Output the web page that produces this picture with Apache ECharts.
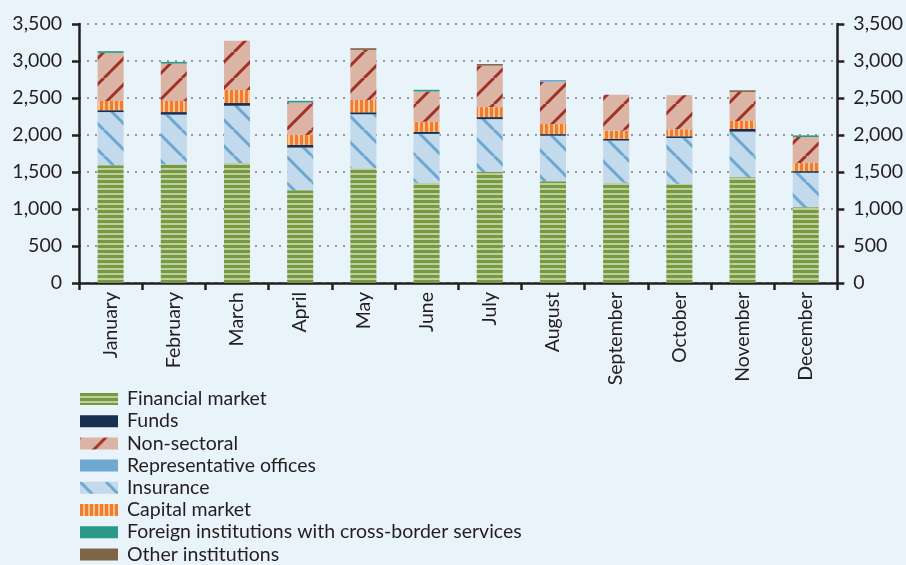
<!DOCTYPE html>
<html>
<head>
<meta charset="utf-8">
<script src="https://cdn.jsdelivr.net/npm/echarts@6/dist/echarts.min.js"></script>
<style>
html,body{margin:0;padding:0;background:#e9f3fa;}
#chart{width:906px;height:565px;}
</style>
</head>
<body>
<div id="chart"></div>
<script>
const months = ['January','February','March','April','May','June','July','August','September','October','November','December'];
const financialMarket = [1590,1605,1620,1255,1550,1350,1500,1375,1350,1340,1430,1025];
const insurance = [720,670,775,575,730,665,715,615,575,620,615,465];
const funds = [25,35,37,36,27,27,27,22,23,23,36,22];
const capitalMarket = [125,150,176,136,167,136,135,136,108,95,108,109];
const nonSectoral = [650,505,667,437,676,410,560,572,487,460,393,352];
const representativeOffices = [0,0,0,0,0,0,0,23,0,0,0,0];
const foreignInstitutions = [23,23,0,23,0,23,0,0,0,0,0,22];
const otherInstitutions = [0,0,0,0,23,0,22,0,0,0,22,0];
const yTicks = [0,500,1000,1500,2000,2500,3000,3500];

function tile(w,h,draw){
  const c=document.createElement('canvas');c.width=w;c.height=h;
  const g=c.getContext('2d');draw(g,w,h);return c;
}
const patFinancial = tile(6,5,(g,w,h)=>{g.fillStyle='#bfcd9f';g.fillRect(0,0,w,h);g.fillStyle='#769a3f';g.fillRect(0,0,w,3);});
const patCapital = tile(5,6,(g,w,h)=>{g.fillStyle='#fbc394';g.fillRect(0,0,w,h);g.fillStyle='#f07c2c';g.fillRect(0,0,3,h);});
function diag(bg,fg,s,dir){
  return tile(s,s,(g,w,h)=>{
    g.fillStyle=bg;g.fillRect(0,0,w,h);
    g.strokeStyle=fg;g.lineWidth=3;
    for(let k=-1;k<=1;k++){
      g.beginPath();
      if(dir>0){g.moveTo(k*s,s);g.lineTo(k*s+s,0);} else {g.moveTo(k*s,0);g.lineTo(k*s+s,s);}
      g.stroke();
    }
  });
}
const patNon = diag('#dcb4a6','#9e3226',26,1);
const patIns = diag('#c3d9ec','#6ca8d0',26,-1);

const chart = echarts.init(document.getElementById('chart'));
const fmt = v => String(v).replace(/\B(?=(\d{3})+(?!\d))/g, ',');
const txt = '#231f20';
const font = 'Lato';
const fs = 19.5;
function s(name,data,color){
  return {name,type:'bar',stack:'t',data,barWidth:26,itemStyle:{color},emphasis:{disabled:true}};
}
chart.setOption({
  backgroundColor:'#e9f3fa',
  animation:false,
  textStyle:{fontFamily:font,color:txt},
  grid:{left:79,right:68,top:24,bottom:282},
  legend:{
    orient:'vertical',left:80,top:389,height:220,padding:0,itemWidth:38,itemHeight:12,itemGap:2.2,
    icon:'rect',
    textStyle:{fontFamily:font,fontSize:fs,color:txt,padding:[0,0,0,4]},
    data:['Financial market','Funds','Non-sectoral','Representative offices','Insurance','Capital market','Foreign institutions with cross-border services','Other institutions']
  },
  xAxis:{
    type:'category',data:months,
    axisLine:{lineStyle:{color:txt,width:2.5}},
    axisTick:{show:true,length:7,lineStyle:{color:txt,width:2.5},alignWithLabel:false},
    axisLabel:{rotate:90,margin:9,fontSize:fs,color:txt,fontFamily:font,interval:0}
  },
  yAxis:[
    {type:'value',min:0,max:3500,interval:500,position:'left',
     axisLine:{show:true,lineStyle:{color:txt,width:2.5}},
     axisTick:{show:true,length:7,lineStyle:{color:txt,width:2.5}},
     axisLabel:{margin:17,fontSize:fs,color:txt,fontFamily:font,formatter:fmt},
     splitLine:{show:true,lineStyle:{color:'#9a9a9a',width:2,type:[2,6]}}},
    {type:'value',min:0,max:3500,interval:500,position:'right',
     axisLine:{show:true,lineStyle:{color:txt,width:2.5}},
     axisTick:{show:true,length:7,lineStyle:{color:txt,width:2.5}},
     axisLabel:{margin:16,fontSize:fs,color:txt,fontFamily:font,formatter:fmt},
     splitLine:{show:false}}
  ],
  series:[
    s('Financial market',financialMarket,{image:patFinancial,repeat:'repeat'}),
    s('Insurance',insurance,{image:patIns,repeat:'repeat'}),
    s('Funds',funds,'#15314f'),
    s('Capital market',capitalMarket,{image:patCapital,repeat:'repeat'}),
    s('Non-sectoral',nonSectoral,{image:patNon,repeat:'repeat'}),
    s('Representative offices',representativeOffices,'#6fa8d0'),
    s('Foreign institutions with cross-border services',foreignInstitutions,'#2a9a8a'),
    s('Other institutions',otherInstitutions,'#7e6449')
  ]
});
</script>
</body>
</html>
